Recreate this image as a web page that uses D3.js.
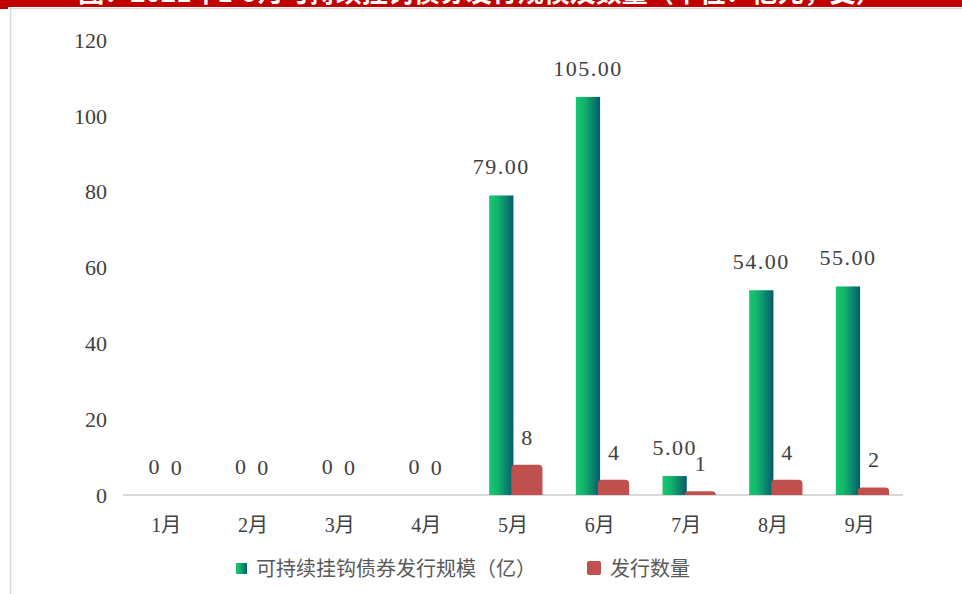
<!DOCTYPE html>
<html>
<head>
<meta charset="utf-8">
<script src="https://cdn.jsdelivr.net/npm/d3@7"></script>
<style>
  body { margin: 0; background: #fff; }
  text { font-family: 'Liberation Serif', 'Noto Sans CJK SC', serif; fill: #404040; }
  .cn { font-family: 'Noto Sans CJK SC', sans-serif; }
</style>
</head>
<body>
<div id="chart"></div>
<script>
var months = ['1月', '2月', '3月', '4月', '5月', '6月', '7月', '8月', '9月']
var scale = [0, 0, 0, 0, 79, 105, 5, 54, 55]
var counts = [0, 0, 0, 0, 8, 4, 1, 4, 2]
var yTicks = [0, 20, 40, 60, 80, 100, 120]
var seriesNames = ['可持续挂钩债券发行规模（亿）', '发行数量']
var title = '图：2021年1-9月可持续挂钩债券发行规模及数量（单位：亿元，支）'

var width = 962, height = 594

var svg = d3.select('#chart').append('svg')
  .attr('width', width)
  .attr('height', height)

// frame + red title band (title is cut off in the source picture)
svg.append('rect')
  .attr('x', 10.5).attr('y', 8.5)
  .attr('width', width).attr('height', height)
  .attr('fill', 'none').attr('stroke', '#d9d9d9').attr('stroke-width', 1.5)

svg.append('clipPath').attr('id', 'band')
  .append('rect').attr('width', width).attr('height', 7)
svg.append('rect').attr('width', width).attr('height', 7).attr('fill', '#c00000')
svg.append('rect').attr('y', 7).attr('width', 8).attr('height', 2).attr('fill', '#c00000')
svg.append('text')
  .attr('class', 'cn')
  .attr('clip-path', 'url(#band)')
  .attr('x', 480).attr('y', 2)
  .attr('text-anchor', 'middle')
  .style('font-size', '26px').style('font-weight', 'bold').style('fill', '#fff')
  .text(title)

var x = d3.scaleBand().domain(months).range([123, 903])
var y = d3.scaleLinear().domain([0, 120]).range([495, 40])
var bw = x.bandwidth()

var defs = svg.append('defs')
var grad = defs.append('linearGradient').attr('id', 'green')
  .attr('x1', '0%').attr('x2', '100%').attr('y1', '0%').attr('y2', '0%')
grad.append('stop').attr('offset', '0%').attr('stop-color', '#16c96f')
grad.append('stop').attr('offset', '35%').attr('stop-color', '#12b36c')
grad.append('stop').attr('offset', '100%').attr('stop-color', '#065a6e')

// y axis labels
svg.append('g').selectAll('text').data(yTicks).join('text')
  .attr('x', 107)
  .attr('y', d => y(d))
  .attr('dy', '0.35em')
  .attr('text-anchor', 'end')
  .style('font-size', '22px')
  .text(d => d)

// baseline
svg.append('line')
  .attr('x1', 123).attr('x2', 903)
  .attr('y1', y(0)).attr('y2', y(0))
  .attr('stroke', '#d9d9d9').attr('stroke-width', 2)

var greenX = i => x(months[i]) + bw * 0.225
var greenW = bw * 0.28
var redX = i => x(months[i]) + bw * 0.48
var redW = bw * 0.36

// green bars
svg.append('g').selectAll('rect').data(scale).join('rect')
  .attr('x', (d, i) => greenX(i))
  .attr('y', d => y(d))
  .attr('width', greenW)
  .attr('height', d => y(0) - y(d))
  .attr('fill', 'url(#green)')

// red bars with rounded top
function roundTop(x0, y0, w, h, r){
  r = Math.min(r, h, w / 2)
  return 'M' + x0 + ',' + (y0 + h) +
    'V' + (y0 + r) +
    'Q' + x0 + ',' + y0 + ' ' + (x0 + r) + ',' + y0 +
    'H' + (x0 + w - r) +
    'Q' + (x0 + w) + ',' + y0 + ' ' + (x0 + w) + ',' + (y0 + r) +
    'V' + (y0 + h) + 'Z'
}
svg.append('g').selectAll('path').data(counts).join('path')
  .attr('d', (d, i) => d > 0 ? roundTop(redX(i), y(d), redW, y(0) - y(d), 4) : '')
  .attr('fill', '#c0504d')

// labels
svg.append('g').selectAll('text').data(scale).join('text')
  .attr('x', (d, i) => greenX(i) + greenW / 2)
  .attr('y', d => y(d) - 21)
  .attr('text-anchor', 'middle')
  .style('font-size', '22px')
  .style('letter-spacing', '1.5px')
  .text(d => d === 0 ? '0' : d.toFixed(2))

svg.append('g').selectAll('text').data(counts).join('text')
  .attr('x', (d, i) => redX(i) + redW / 2 - (d === 0 ? 4 : 0))
  .attr('y', d => y(d) - 20)
  .attr('text-anchor', 'middle')
  .style('font-size', '22px')
  .text(d => d)

// category labels
svg.append('g').selectAll('text').data(months).join('text')
  .attr('x', d => x(d) + bw / 2)
  .attr('y', 525)
  .attr('dy', '0.35em')
  .attr('text-anchor', 'middle')
  .style('font-size', '20px')
  .text(d => d)

// legend
var lg = svg.append('g')
lg.append('rect').attr('x', 236).attr('y', 563).attr('width', 11).attr('height', 11).attr('fill', 'url(#green)')
lg.append('text').attr('class', 'cn').attr('x', 256).attr('y', 569).attr('dy', '0.35em')
  .style('font-size', '20px').style('fill', '#595959').text(seriesNames[0])
lg.append('rect').attr('x', 587).attr('y', 561).attr('width', 14).attr('height', 14).attr('rx', 2).attr('fill', '#c0504d')
lg.append('text').attr('class', 'cn').attr('x', 610).attr('y', 569).attr('dy', '0.35em')
  .style('font-size', '20px').style('fill', '#595959').text(seriesNames[1])
</script>
</body>
</html>
